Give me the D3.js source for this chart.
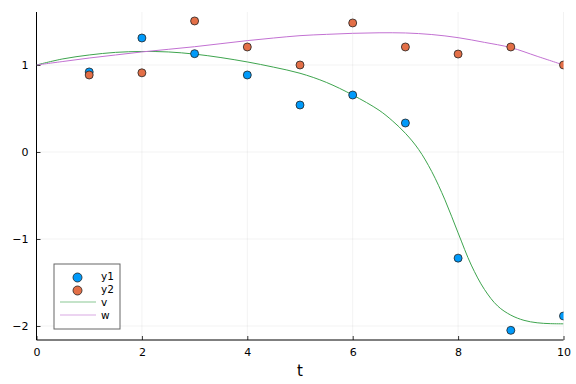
<!DOCTYPE html>
<html>
<head>
<meta charset="utf-8">
<script src="https://cdn.jsdelivr.net/npm/d3@7"></script>
<style>
  html, body { margin: 0; padding: 0; background: #fff; }
  svg { display: block; font-family: "DejaVu Sans", sans-serif; }
</style>
</head>
<body>
<svg id="chart" width="576" height="384"></svg>
<script>
// ---- data ----
const t = [1, 2, 3, 4, 5, 6, 7, 8, 9, 10];
const y1 = [0.92, 1.31, 1.13, 0.885, 0.54, 0.655, 0.333, -1.22, -2.05, -1.885];
const y2 = [0.885, 0.91, 1.506, 1.207, 1.0, 1.483, 1.207, 1.126, 1.207, 1.0];

const curveT = [0, 0.5, 1, 1.5, 2, 2.5, 3, 3.5, 4, 4.5, 5, 5.5, 6, 6.5, 6.75, 7, 7.25, 7.5, 7.75, 8, 8.25, 8.5, 8.75, 9, 9.25, 9.5, 9.75, 10];
const v = [1.0, 1.07, 1.115, 1.145, 1.155, 1.15, 1.125, 1.085, 1.035, 0.975, 0.905, 0.80, 0.655, 0.48, 0.36, 0.215, 0.03, -0.225, -0.55, -0.93, -1.30, -1.58, -1.77, -1.875, -1.935, -1.963, -1.973, -1.975];
const wT = [0, 0.5, 1, 1.5, 2, 2.5, 3, 3.5, 4, 4.5, 5, 5.5, 6, 6.5, 7, 7.5, 8, 8.5, 9, 9.5, 10];
const w = [1.0, 1.04, 1.08, 1.115, 1.15, 1.18, 1.21, 1.245, 1.28, 1.31, 1.337, 1.352, 1.364, 1.37, 1.368, 1.35, 1.314, 1.26, 1.20, 1.10, 1.0];

const xTicks = [0, 2, 4, 6, 8, 10];
const yTicks = [-2, -1, 0, 1];
const seriesNames = ["y1", "y2", "v", "w"];
const colors = { y1: "#009AFA", y2: "#E36F47", v: "#3EA44E", w: "#C271D2" };

(function () {
// ---- layout ----
const svg = d3.select("#chart");
const pLeft = 36.5, pRight = 563.5, pTop = 12, pBottom = 340;
const x = d3.scaleLinear().domain([0, 10]).range([pLeft, pRight]);
const y = d3.scaleLinear().domain([-2.161, 1.609]).range([pBottom, pTop]);

// grid
const grid = svg.append("g");
grid.selectAll(".gx").data(xTicks).enter().append("line")
  .attr("x1", d => x(d)).attr("x2", d => x(d))
  .attr("y1", pTop).attr("y2", pBottom)
  .attr("stroke", "#000").attr("stroke-opacity", 0.1).attr("stroke-width", 0.5);
grid.selectAll(".gy").data(yTicks).enter().append("line")
  .attr("x1", pLeft).attr("x2", pRight)
  .attr("y1", d => y(d)).attr("y2", d => y(d))
  .attr("stroke", "#000").attr("stroke-opacity", 0.1).attr("stroke-width", 0.5);

// axes
const fmt = d => d < 0 ? "\u2212" + Math.abs(d) : String(d);
const xAxis = d3.axisBottom(x).tickValues(xTicks).tickSizeInner(-4).tickSizeOuter(0).tickPadding(8).tickFormat(fmt);
const yAxis = d3.axisLeft(y).tickValues(yTicks).tickSizeInner(-4).tickSizeOuter(0).tickPadding(8).tickFormat(fmt);

const gx = svg.append("g").attr("transform", `translate(0,${pBottom})`).call(xAxis);
const gy = svg.append("g").attr("transform", `translate(${pLeft},0)`).call(yAxis);
[gx, gy].forEach(g => {
  g.select(".domain").attr("stroke", "#000").attr("stroke-width", 1);
  g.selectAll(".tick line").attr("stroke", "#000").attr("stroke-width", 0.8);
  g.selectAll(".tick text").attr("font-size", 11).attr("fill", "#000")
    .attr("font-family", "DejaVu Sans, sans-serif");
});
gx.select(".domain").attr("d", `M${pLeft},0H${pRight}`);
gy.select(".domain").attr("d", `M0,${pTop}V${pBottom}`);

// x label
svg.append("text").attr("x", (pLeft + pRight) / 2).attr("y", 376)
  .attr("text-anchor", "middle").attr("font-size", 15).text("t");

// clip
svg.append("clipPath").attr("id", "clip").append("rect")
  .attr("x", pLeft).attr("y", pTop).attr("width", pRight - pLeft).attr("height", pBottom - pTop);

// lines
const line = d3.line().x(d => x(d[0])).y(d => y(d[1])).curve(d3.curveCatmullRom.alpha(0.5));
const plot = svg.append("g").attr("clip-path", "url(#clip)");
plot.append("path").datum(curveT.map((d, i) => [d, v[i]]))
  .attr("d", line).attr("fill", "none").attr("stroke", colors.v).attr("stroke-width", 1);
plot.append("path").datum(wT.map((d, i) => [d, w[i]]))
  .attr("d", line).attr("fill", "none").attr("stroke", colors.w).attr("stroke-width", 1);

// scatter
const pts = svg.append("g").attr("clip-path", "url(#clip)");
pts.selectAll(".p1").data(t.map((d, i) => [d, y1[i]])).enter().append("circle")
  .attr("cx", d => x(d[0])).attr("cy", d => y(d[1])).attr("r", 4)
  .attr("fill", colors.y1).attr("stroke", "#222").attr("stroke-width", 0.8);
pts.selectAll(".p2").data(t.map((d, i) => [d, y2[i]])).enter().append("circle")
  .attr("cx", d => x(d[0])).attr("cy", d => y(d[1])).attr("r", 4)
  .attr("fill", colors.y2).attr("stroke", "#222").attr("stroke-width", 0.8);

// legend
const lg = svg.append("g");
lg.append("rect").attr("x", 54).attr("y", 264).attr("width", 66).attr("height", 65)
  .attr("fill", "#fff").attr("stroke", "#000").attr("stroke-opacity", 0.6).attr("stroke-width", 1);
seriesNames.forEach((name, i) => {
  const cy = 277.5 + i * 13;
  if (i < 2) {
    lg.append("circle").attr("cx", 77.5).attr("cy", cy).attr("r", 4.5)
      .attr("fill", colors[name]).attr("stroke", "#222").attr("stroke-width", 0.8);
  } else {
    lg.append("line").attr("x1", 60).attr("x2", 96).attr("y1", cy - 1.5).attr("y2", cy - 1.5)
      .attr("stroke", colors[name]).attr("stroke-width", 1.2).attr("stroke-opacity", 0.6);
  }
  lg.append("text").attr("x", 101).attr("y", cy - 1).attr("dy", "0.35em")
    .attr("font-size", 10.5).text(name);
});
})();
</script>
</body>
</html>
